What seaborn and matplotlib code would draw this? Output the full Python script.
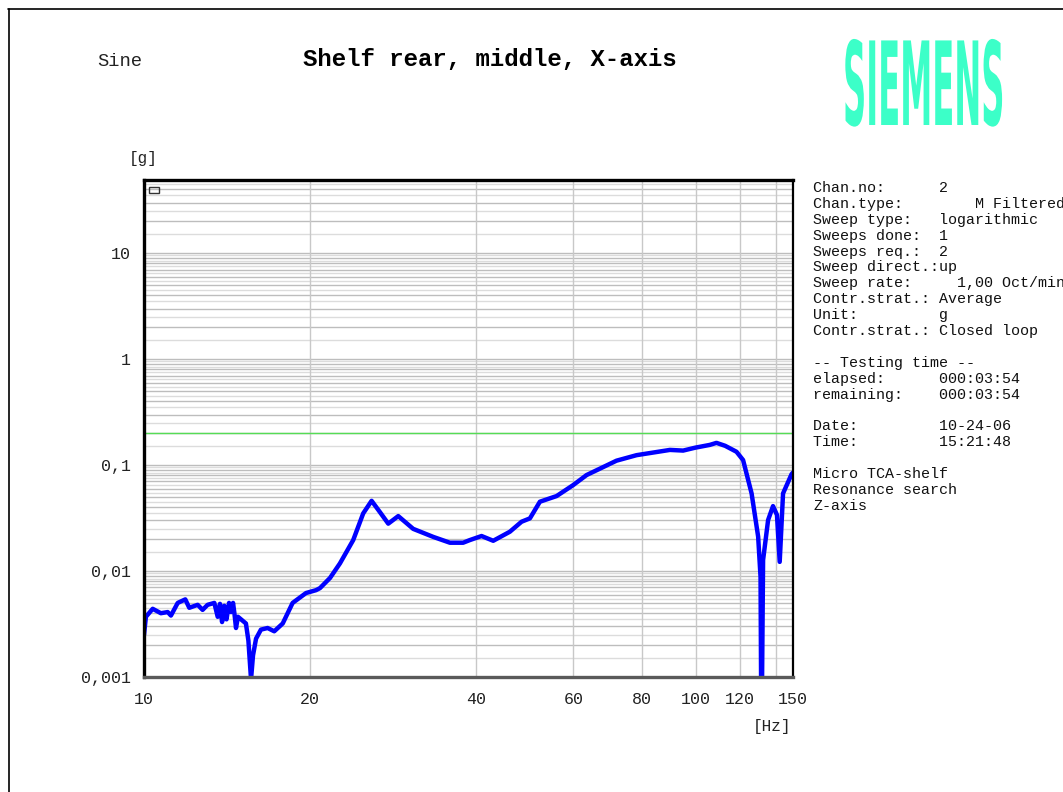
import matplotlib
matplotlib.use("Agg")
import matplotlib.pyplot as plt
import numpy as np
import pandas as pd
import seaborn as sns
from matplotlib import patheffects
from matplotlib.transforms import Affine2D
from matplotlib.ticker import FixedLocator, FixedFormatter, NullFormatter
from matplotlib.patches import Rectangle
from matplotlib.lines import Line2D

# ---- measured response (control channel 2) ----
freq_hz = [
    10.0, 10.08, 10.37, 10.73, 11.04, 11.19, 11.51, 11.88, 12.08, 12.51,
    12.77, 13.04, 13.41, 13.6, 13.73, 13.85, 13.98, 14.11, 14.26, 14.38,
    14.5, 14.59, 14.68, 14.8, 14.99, 15.3, 15.46, 15.63, 15.76, 15.96,
    16.29, 16.75, 17.22, 17.84, 18.59, 19.66, 20.5, 20.84, 21.73, 22.65,
    23.94, 24.96, 25.85, 26.76, 27.71, 28.89, 30.75, 33.43, 35.84, 37.87,
    38.95, 40.9, 42.94, 46.03, 48.33, 50.04, 52.17, 55.94, 59.96, 63.39,
    71.82, 78.09, 89.75, 94.84, 99.8, 106.0, 109.0, 113.0, 118.5, 121.8,
    126.2, 129.7, 131.0, 131.5, 132.4, 135.2, 138.0, 140.3, 141.9, 143.9,
    149.1, 150.0,
]
accel_g = [
    0.0025, 0.0037, 0.0044, 0.0040, 0.0041, 0.0038, 0.0050, 0.0054, 0.0045, 0.0048,
    0.0043, 0.0048, 0.0050, 0.0037, 0.0049, 0.0033, 0.0047, 0.0035, 0.0050, 0.0041,
    0.0050, 0.0039, 0.0029, 0.0037, 0.0035, 0.0032, 0.0022, 0.00095, 0.0016, 0.0023,
    0.0028, 0.0029, 0.0027, 0.0032, 0.0050, 0.0062, 0.0066, 0.0069, 0.0086, 0.0118,
    0.0196, 0.035, 0.046, 0.036, 0.028, 0.033, 0.025, 0.021, 0.0185, 0.0185,
    0.0196, 0.0214, 0.0193, 0.0235, 0.0292, 0.0314, 0.0451, 0.051, 0.0648, 0.0805,
    0.110, 0.124, 0.139, 0.137, 0.146, 0.155, 0.162, 0.152, 0.1335, 0.1115,
    0.054, 0.0211, 0.0088, 0.0002, 0.0127, 0.0303, 0.041, 0.0338, 0.0122, 0.054,
    0.082, 0.085,
]
limit_g = 0.2

x_tick_values = [10, 20, 40, 60, 80, 100, 120, 140, 150]
x_tick_labels = ["10", "20", "40", "60", "80", "100", "120", "", "150"]
y_tick_values = [0.001, 0.01, 0.1, 1, 10]
y_tick_labels = ["0,001", "0,01", "0,1", "1", "10"]

title_text = "Shelf rear, middle, X-axis"
mode_text = "Sine"
logo_text = "SIEMENS"

info_lines = [
    "Chan.no:      2",
    "Chan.type:        M Filtered",
    "Sweep type:   logarithmic",
    "Sweeps done:  1",
    "Sweeps req.:  2",
    "Sweep direct.:up",
    "Sweep rate:     1,00 Oct/min",
    "Contr.strat.: Average",
    "Unit:         g",
    "Contr.strat.: Closed loop",
    "",
    "-- Testing time --",
    "elapsed:      000:03:54",
    "remaining:    000:03:54",
    "",
    "Date:         10-24-06",
    "Time:         15:21:48",
    "",
    "Micro TCA-shelf",
    "Resonance search",
    "Z-axis",
]

df = pd.DataFrame({"freq": freq_hz, "accel": accel_g})

# ---- styling ----
sns.set_style("white")
MONO = ["Liberation Mono", "DejaVu Sans Mono"]
plt.rcParams["font.family"] = MONO

W, H = 1063, 792
fig = plt.figure(figsize=(W / 100, H / 100), dpi=100)


def fx(px):
    return px / W


def fy(py):
    return 1 - py / H


ax = fig.add_axes([fx(144), fy(677), (793 - 144) / W, (677 - 180) / H])
ax.set_xscale("log")
ax.set_yscale("log")
ax.set_xlim(10, 150)
ax.set_ylim(0.001, 49)

# horizontal grid: whole multiples darker, half steps lighter
for n in range(-3, 2):
    for k in np.arange(1.0, 10.0, 0.5):
        level = k * 10.0 ** n
        if level > 49:
            continue
        col = "#bdbdbd" if k == int(k) else "#dcdcdc"
        ax.axhline(level, color=col, lw=1.0, zorder=0.5)

ax.xaxis.set_major_locator(FixedLocator(x_tick_values))
ax.xaxis.set_major_formatter(FixedFormatter(x_tick_labels))
ax.xaxis.set_minor_locator(FixedLocator(
    [v for v in range(15, 150, 5) if v not in x_tick_values]))
ax.xaxis.set_minor_formatter(NullFormatter())

y_minor = [k * 10.0 ** n for n in range(-3, 2) for k in np.arange(1.5, 10.0, 0.5)]
y_minor += [15, 20, 25, 30, 35, 40, 45]
ax.yaxis.set_major_locator(FixedLocator(y_tick_values))
ax.yaxis.set_major_formatter(FixedFormatter(y_tick_labels))
ax.yaxis.set_minor_locator(FixedLocator(y_minor))
ax.yaxis.set_minor_formatter(NullFormatter())

ax.grid(False)
ax.grid(True, which="major", axis="x", color="#c8c8c8", lw=1.0, zorder=0.5)
ax.set_axisbelow(True)

ax.tick_params(axis="x", which="major", direction="out", length=4, width=1,
               pad=7, labelsize=12, colors="black")
ax.tick_params(axis="x", which="minor", direction="out", length=2.5, width=1,
               colors="black")
ax.tick_params(axis="y", which="major", direction="out", length=4.5, width=1.2,
               pad=5, labelsize=12, colors="black")
ax.tick_params(axis="y", which="minor", direction="out", length=3, width=1,
               colors="black")
for lab in ax.get_xticklabels() + ax.get_yticklabels():
    lab.set_color("#222222")

# limit line
ax.axhline(limit_g, color="#55dd55", lw=1.0, zorder=1)

# response curve
sns.lineplot(data=df, x="freq", y="accel", ax=ax, color="#0000ff",
             lw=3.2, estimator=None, sort=False, zorder=3, legend=False)
ax.set_xlabel("")
ax.set_ylabel("")

# small marker box in the upper left corner
ax.add_patch(Rectangle((0.0077, 0.9744), 0.0154, 0.0121, transform=ax.transAxes,
                       fill=False, ec="#333333", lw=1.0, zorder=4))

for side, lw, col in [("left", 2.4, "black"), ("top", 2.4, "black"),
                      ("right", 1.6, "black"), ("bottom", 2.4, "#5a5a5a")]:
    ax.spines[side].set_visible(True)
    ax.spines[side].set_linewidth(lw)
    ax.spines[side].set_color(col)
    ax.spines[side].set_zorder(5)

# axis unit labels
fig.text(fx(143), fy(158), "[g]", ha="center", va="center", fontsize=11.5,
         color="#222222")
fig.text(fx(772), fy(727), "[Hz]", ha="center", va="center", fontsize=11.5,
         color="#222222")

# header
fig.text(fx(120), fy(61), mode_text, ha="center", va="center", fontsize=13.5,
         color="#222222")
fig.text(fx(490), fy(60), title_text, ha="center", va="center", fontsize=17.3,
         fontweight="bold", color="black")


class Stretch(patheffects.AbstractPathEffect):
    """Stretch a text path vertically around its left baseline."""

    def __init__(self, sy):
        super().__init__()
        self._sy = sy

    def draw_path(self, renderer, gc, tpath, affine, rgbFace=None):
        x0, y0 = affine.transform((0, 0))
        stretch = Affine2D().translate(-x0, -y0).scale(1.0, self._sy).translate(x0, y0)
        renderer.draw_path(gc, tpath, affine + stretch, rgbFace)


fig.text(fx(843), fy(125), logo_text, ha="left", va="baseline", fontsize=23.2,
         fontweight="bold", family="DejaVu Sans", color="#3cffc8",
         path_effects=[Stretch(3.6)])

# channel / test information panel
for i, line in enumerate(info_lines):
    if line:
        fig.text(fx(813), fy(188 + i * 15.9), line, ha="left", va="center",
                 fontsize=10.8, color="#111111")

# page border
fig.add_artist(Line2D([fx(8.5), fx(8.5)], [fy(9), -0.05], transform=fig.transFigure,
                      color="black", lw=1.2))
fig.add_artist(Line2D([fx(8), 1.05], [fy(9), fy(9)], transform=fig.transFigure,
                      color="black", lw=1.2))

fig.savefig("out.png", dpi=100)
